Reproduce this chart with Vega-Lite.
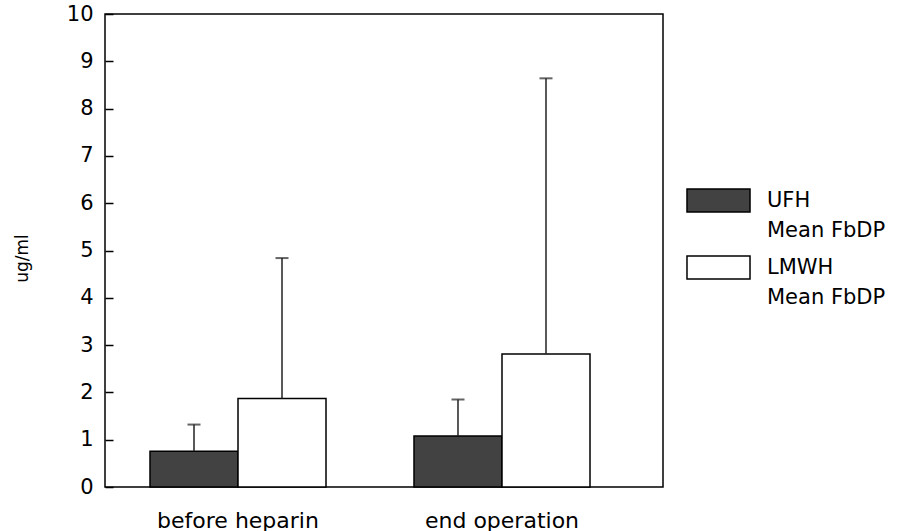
{
  "$schema": "https://vega.github.io/schema/vega-lite/v6.json",
  "width": 558,
  "height": 473,
  "autosize": "none",
  "padding": {"left": 105, "top": 14, "right": 253, "bottom": 44},
  "background": "white",
  "config": {
    "view": {"stroke": "black", "strokeWidth": 1.5},
    "font": "DejaVu Sans",
    "style": {"guide-label": {"lineHeight": 30}}
  },
  "data": {
    "values": [
      {"time": "before heparin", "group": "UFH", "mean": 0.755, "upper": 1.32},
      {"time": "before heparin", "group": "LMWH", "mean": 1.87, "upper": 4.84},
      {"time": "end operation", "group": "UFH", "mean": 1.08, "upper": 1.85},
      {"time": "end operation", "group": "LMWH", "mean": 2.81, "upper": 8.64}
    ]
  },
  "encoding": {
    "x": {
      "field": "time",
      "type": "nominal",
      "sort": ["before heparin", "end operation"],
      "scale": {"range": [45, 485], "paddingInner": 0.3333, "paddingOuter": 0},
      "axis": {
        "title": null,
        "ticks": false,
        "domain": false,
        "labelAngle": 0,
        "labelFontSize": 22,
        "labelColor": "black",
        "labelBaseline": "alphabetic",
        "labelPadding": 40
      }
    },
    "xOffset": {
      "field": "group",
      "type": "nominal",
      "sort": ["UFH", "LMWH"],
      "scale": {"paddingInner": 0, "paddingOuter": 0}
    }
  },
  "layer": [
    {
      "mark": {"type": "bar", "stroke": "black", "strokeWidth": 1.5},
      "encoding": {
        "y": {
          "field": "mean",
          "type": "quantitative",
          "scale": {"domain": [0, 10], "nice": false},
          "axis": {
            "values": [0, 1, 2, 3, 4, 5, 6, 7, 8, 9, 10],
            "grid": false,
            "domain": false,
            "tickSize": -8,
            "tickColor": "black",
            "tickWidth": 1.5,
            "labelFontSize": 21,
            "labelColor": "black",
            "labelPadding": 20,
            "title": "ug/ml",
            "titleFontSize": 17,
            "titleFontWeight": "normal",
            "titleColor": "black",
            "titleX": -83,
            "titleY": 244,
            "titleAngle": -90,
            "titleAlign": "center",
            "titleBaseline": "middle"
          }
        },
        "color": {
          "field": "group",
          "type": "nominal",
          "scale": {"domain": ["UFH", "LMWH"], "range": ["#424242", "#ffffff"]},
          "legend": {
            "title": null,
            "orient": "none",
            "legendX": 601,
            "legendY": 174,
            "padding": 0,
            "symbolType": "M-2.74,-1H2.74V1H-2.74Z",
            "symbolSize": 529,
            "symbolStrokeColor": "black",
            "symbolStrokeWidth": 1.5,
            "symbolOpacity": 1,
            "labelExpr": "[datum.label, 'Mean  FbDP']",
            "labelFontSize": 21,
            "labelColor": "black",
            "labelOffset": 36,
            "labelBaseline": "middle",
            "labelLimit": 300,
            "rowPadding": 12
          }
        }
      }
    },
    {
      "mark": {"type": "rule", "color": "#222222", "strokeWidth": 1.5},
      "encoding": {
        "y": {"field": "mean", "type": "quantitative"},
        "y2": {"field": "upper"}
      }
    },
    {
      "mark": {"type": "tick", "color": "#222222", "size": 13, "thickness": 2},
      "encoding": {
        "y": {"field": "upper", "type": "quantitative"}
      }
    }
  ]
}
